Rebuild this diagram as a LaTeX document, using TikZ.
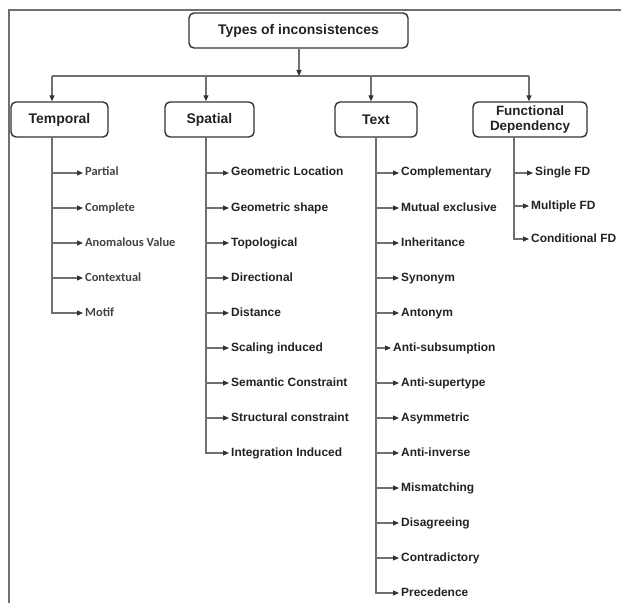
\documentclass[tikz,border=0pt]{standalone}
\usepackage{fontspec}
\setmainfont{Liberation Sans}
\newfontfamily\leafT{Carlito}
\usetikzlibrary{arrows.meta}
\definecolor{lin}{HTML}{707070}
\definecolor{bord}{HTML}{333333}
\definecolor{txt}{HTML}{222222}
\begin{document}
\begin{tikzpicture}[x=1bp,y=-1bp,
 box/.style={draw=bord, line width=1.4bp, rounded corners=5bp, minimum height=35bp, inner sep=0pt, font=\bfseries\fontsize{14}{16}\selectfont, text=txt, align=center},
 leaf/.style={anchor=west, inner sep=2bp, text height=8.5bp, text depth=2.5bp, font=\bfseries\fontsize{12}{13}\selectfont, text=txt},
 tleaf/.style={anchor=west, inner sep=2bp, text height=8.5bp, text depth=2.5bp, font=\leafT\bfseries\fontsize{12.5}{14}\selectfont, text=txt!85},
 conn/.style={draw=lin, line width=1.1bp},
 arr/.style={conn, -{Triangle[length=6bp,width=5bp,color=bord]}}]
\useasboundingbox (0,0) rectangle (621,603);
\coordinate (fr1) at (9,603); \coordinate (fr2) at (9,10); \coordinate (fr3) at (621,10);
\draw[draw=lin, line width=1.5bp] (fr1) -- (fr2) -- (fr3);
% boxes
\node[box, minimum width=219bp] (root) at (298.5,30.5) {Types of inconsistences};
\node[box, minimum width=97bp] (temporal) at (59.5,119.5) {Temporal};
\node[box, minimum width=89bp] (spatial) at (209.5,119.5) {Spatial};
\node[box, minimum width=82bp] (text) at (376,119.5) {Text};
\node[box, minimum width=114bp, font=\bfseries\fontsize{13.5}{16}\selectfont] (fd) at (530,119.5) {Functional\\Dependency};
% bus
\coordinate (bT) at (52,76); \coordinate (bS) at (206,76); \coordinate (bX) at (371,76);
\coordinate (bF) at (529,76); \coordinate (bR) at (299,76);
\draw[conn] (bT) -- (bF);
\draw[arr] (root.south -| bR) -- (bR);
\draw[arr] (bT) -- (bT |- temporal.north);
\draw[arr] (bS) -- (bS |- spatial.north);
\draw[arr] (bX) -- (bX |- text.north);
\draw[arr] (bF) -- (bF |- fd.north);
% stems
\coordinate (sT) at (52,137.5); \coordinate (sS) at (206,137.5);
\coordinate (sX) at (376,137.5); \coordinate (sF) at (514,137.5);
% temporal leaves
\foreach \lab [count=\i] in {Partial, Complete, Anomalous Value, Contextual, Motif} {
  \node[tleaf] (t\i) at (83,{173+35*(\i-1)}) {\lab};
  \draw[arr] (sT) |- (t\i.west);
}
% spatial leaves
\foreach \lab [count=\i] in {Geometric Location, Geometric shape, Topological, Directional, Distance, Scaling induced, Semantic Constraint, Structural constraint, Integration Induced} {
  \node[leaf] (s\i) at (229,{173+35*(\i-1)}) {\lab};
  \draw[arr] (sS) |- (s\i.west);
}
% text leaves
\foreach \lab [count=\i] in {Complementary, Mutual exclusive, Inheritance, Synonym, Antonym} {
  \node[leaf] (x\i) at (399,{173+35*(\i-1)}) {\lab};
  \draw[arr] (sX) |- (x\i.west);
}
\node[leaf] (x6) at (391,348) {Anti-subsumption};
\draw[arr] (sX) |- (x6.west);
\foreach \lab [count=\i from 7] in {Anti-supertype, Asymmetric, Anti-inverse, Mismatching, Disagreeing, Contradictory, Precedence} {
  \node[leaf] (x\i) at (399,{173+35*(\i-1)}) {\lab};
  \draw[arr] (sX) |- (x\i.west);
}
% FD leaves
\node[leaf] (fd1) at (533,173) {Single FD};
\node[leaf] (fd2) at (529,206) {Multiple FD};
\node[leaf] (fd3) at (529,239) {Conditional FD};
\foreach \i in {1,2,3} { \draw[arr] (sF) |- (fd\i.west); }
\end{tikzpicture}
\end{document}
